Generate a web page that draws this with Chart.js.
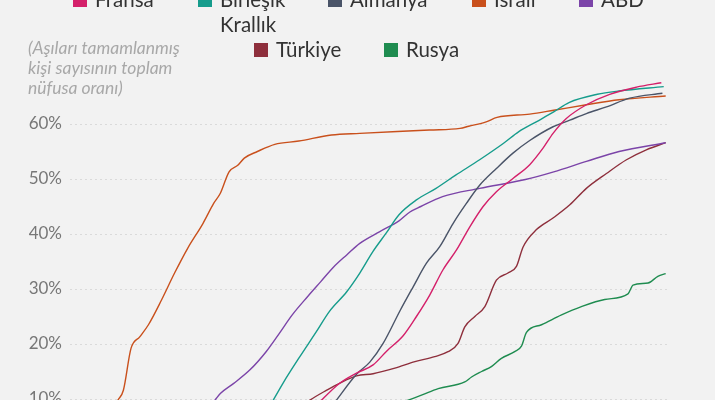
<!DOCTYPE html>
<html lang="tr">
<head>
<meta charset="utf-8">
<script src="https://cdn.jsdelivr.net/npm/chart.js@4"></script>
<style>
  html, body { margin: 0; padding: 0; background: #f2f2f2; }
  #sahne { position: relative; width: 715px; height: 400px; overflow: hidden; background: #f2f2f2; font-family: Lato, "Noto Sans", sans-serif; }
  #chart { position: absolute; left: 0; top: 0; }
  .lej { position: absolute; font-size: 20.5px; line-height: 25px; color: #333; white-space: nowrap; }
  .kutu { position: absolute; width: 14px; height: 14px; }
  #not { position: absolute; left: 28px; top: 38px; font-size: 17.5px; line-height: 20px; font-style: italic; color: #a8a8a8; }
</style>
</head>
<body>
<div id="sahne">
  <canvas id="chart" width="715" height="480"></canvas>
  <div id="not">(Aşıları tamamlanmış<br>kişi sayısının toplam<br>nüfusa oranı)</div>
</div>
<script>
// [gün, oran %] — gün 0 = grafiğin sol kenarı
const fransa = [[110,7.5],[115.5,9.8],[123.9,12.9],[131.5,14.7],[139.1,16.2],[145.3,18.7],[152.9,21.5],[159,25],[165.1,28.9],[171.2,33.5],[177.4,37.1],[183.5,41.3],[189.6,45],[195.7,47.7],[203.3,50.1],[211,52.6],[217.1,55.6],[221.7,58.3],[227.8,61],[237,63.5],[247.7,65.4],[260,66.7],[271.4,67.5]];
const birlesikKrallik = [[88,6],[93.3,9.8],[97.8,12.9],[105.5,17.7],[113,22.2],[119,25.9],[127,29.5],[133,32.9],[139,36.8],[145,40.1],[151,43.5],[159,46.2],[168,48.3],[177,50.7],[188,53.5],[199,56.5],[206,58.6],[214,60.4],[222,62.2],[229,63.9],[242,65.4],[252,66],[272.5,66.8]];
const almanya = [[117,7],[122.3,9.8],[131.5,14.5],[137.6,16.7],[143.7,20.1],[151.4,26],[157.5,30.4],[163.6,34.7],[169.7,37.7],[175.8,41.9],[182,45.6],[188.1,48.9],[195.7,51.9],[203.3,54.7],[211,57],[221.7,59.5],[229.4,60.7],[237,61.9],[246.2,63.1],[256.9,64.7],[271.9,65.6]];
const israil = [[17,6],[22,9.8],[24.5,11.6],[28,19.2],[32,21.3],[36,23.5],[42,28],[48,32.9],[54,37.4],[61,41.9],[66,45.6],[69,47.4],[73,51.3],[77,52.5],[80,53.8],[86,55],[94,56.3],[105,56.9],[120,58],[133,58.3],[165,58.9],[179,59.2],[183,59.6],[191,60.4],[196,61.2],[211,61.8],[222,62.5],[237,63.5],[252,64.4],[273.4,65.1]];
const abd = [[60,7],[66.5,9.8],[69,11],[75,12.8],[82.6,15.3],[90,18.6],[96,21.9],[102,25.3],[109,28.6],[115,31.3],[121,34],[127,36.2],[133,38.3],[142,40.4],[151,42.4],[156,44],[161,45],[171,46.8],[188,48.3],[209,49.9],[222,51.3],[237,53.2],[252,55],[273.4,56.6]];
const turkiye = [[104,8],[110.1,9.8],[117.8,11.6],[123.9,12.9],[131.5,14.2],[139.1,14.6],[149.1,15.6],[158.3,16.8],[167.4,17.7],[173.5,18.6],[178.1,20.1],[181.2,23.1],[185.8,25],[190.4,26.8],[195.7,31.6],[201,32.9],[204.9,34.1],[207.9,37.6],[214.1,40.8],[221.7,42.9],[229.4,45.3],[237,48.3],[246.2,51],[255.4,53.5],[264.5,55.3],[273.4,56.6]];
const rusya = [[145,8.5],[155.2,9.8],[161.3,10.7],[169,11.9],[181.2,13.1],[184.3,14],[188.9,15],[193.4,15.9],[198,17.4],[204.1,18.6],[207.2,19.6],[209.5,22.1],[216.4,23.5],[225.6,25.3],[234.7,26.8],[245.4,28.1],[256.1,29.1],[258.4,30.7],[265.3,31.1],[269.8,32.3],[273.4,32.8]];

const ulkeler = ['Fransa', 'Birleşik Krallık', 'Almanya', 'İsrail', 'ABD', 'Türkiye', 'Rusya'];
const seriler = [fransa, birlesikKrallik, almanya, israil, abd, turkiye, rusya];
const renkler = ['#d4206a', '#169c8c', '#4a5468', '#c9501c', '#7b44a8', '#8e2f3c', '#1f8c50'];

// legend placement (left of box, top of text line)
const lejantYeri = [[73, -13], [198, -13], [328, -13], [472, -13], [579, -13], [254, 37], [384, 37]];

const sahne = document.getElementById('sahne');
ulkeler.forEach((ad, i) => {
  const [x, y] = lejantYeri[i];
  const kutu = document.createElement('div');
  kutu.className = 'kutu';
  kutu.style.left = x + 'px';
  kutu.style.top = (y + 6) + 'px';
  kutu.style.background = renkler[i];
  sahne.appendChild(kutu);
  const yazi = document.createElement('div');
  yazi.className = 'lej';
  yazi.style.left = (x + 22) + 'px';
  yazi.style.top = y + 'px';
  yazi.innerHTML = ad === 'Birleşik Krallık' ? 'Birleşik<br>Krallık' : ad;
  sahne.appendChild(yazi);
});

new Chart(document.getElementById('chart'), {
  type: 'line',
  data: {
    datasets: seriler.map((s, i) => ({
      label: ulkeler[i],
      data: s.map(p => ({ x: p[0], y: p[1] })),
      borderColor: renkler[i],
      borderWidth: 1.4,
      pointRadius: 0,
      fill: false,
      cubicInterpolationMode: 'monotone'
    }))
  },
  options: {
    responsive: false,
    animation: false,
    events: [],
    layout: { padding: { left: 28, right: 48, top: 69, bottom: 26 } },
    plugins: { legend: { display: false }, tooltip: { enabled: false } },
    scales: {
      x: { type: 'linear', min: 0, max: 274, display: false },
      y: {
        min: 0,
        max: 70,
        afterBuildTicks: s => { s.ticks = s.ticks.filter(t => t.value <= 60); },
        afterFit: s => { s.width = 42; },
        ticks: {
          stepSize: 10,
          padding: 8,
          color: '#777',
          font: { family: 'Lato', size: 17 },
          callback: v => v + '%'
        },
        grid: { color: '#dadada', drawTicks: false, lineWidth: 1 },
        border: { display: false, dash: [2, 3] }
      }
    }
  }
});
</script>
</body>
</html>
